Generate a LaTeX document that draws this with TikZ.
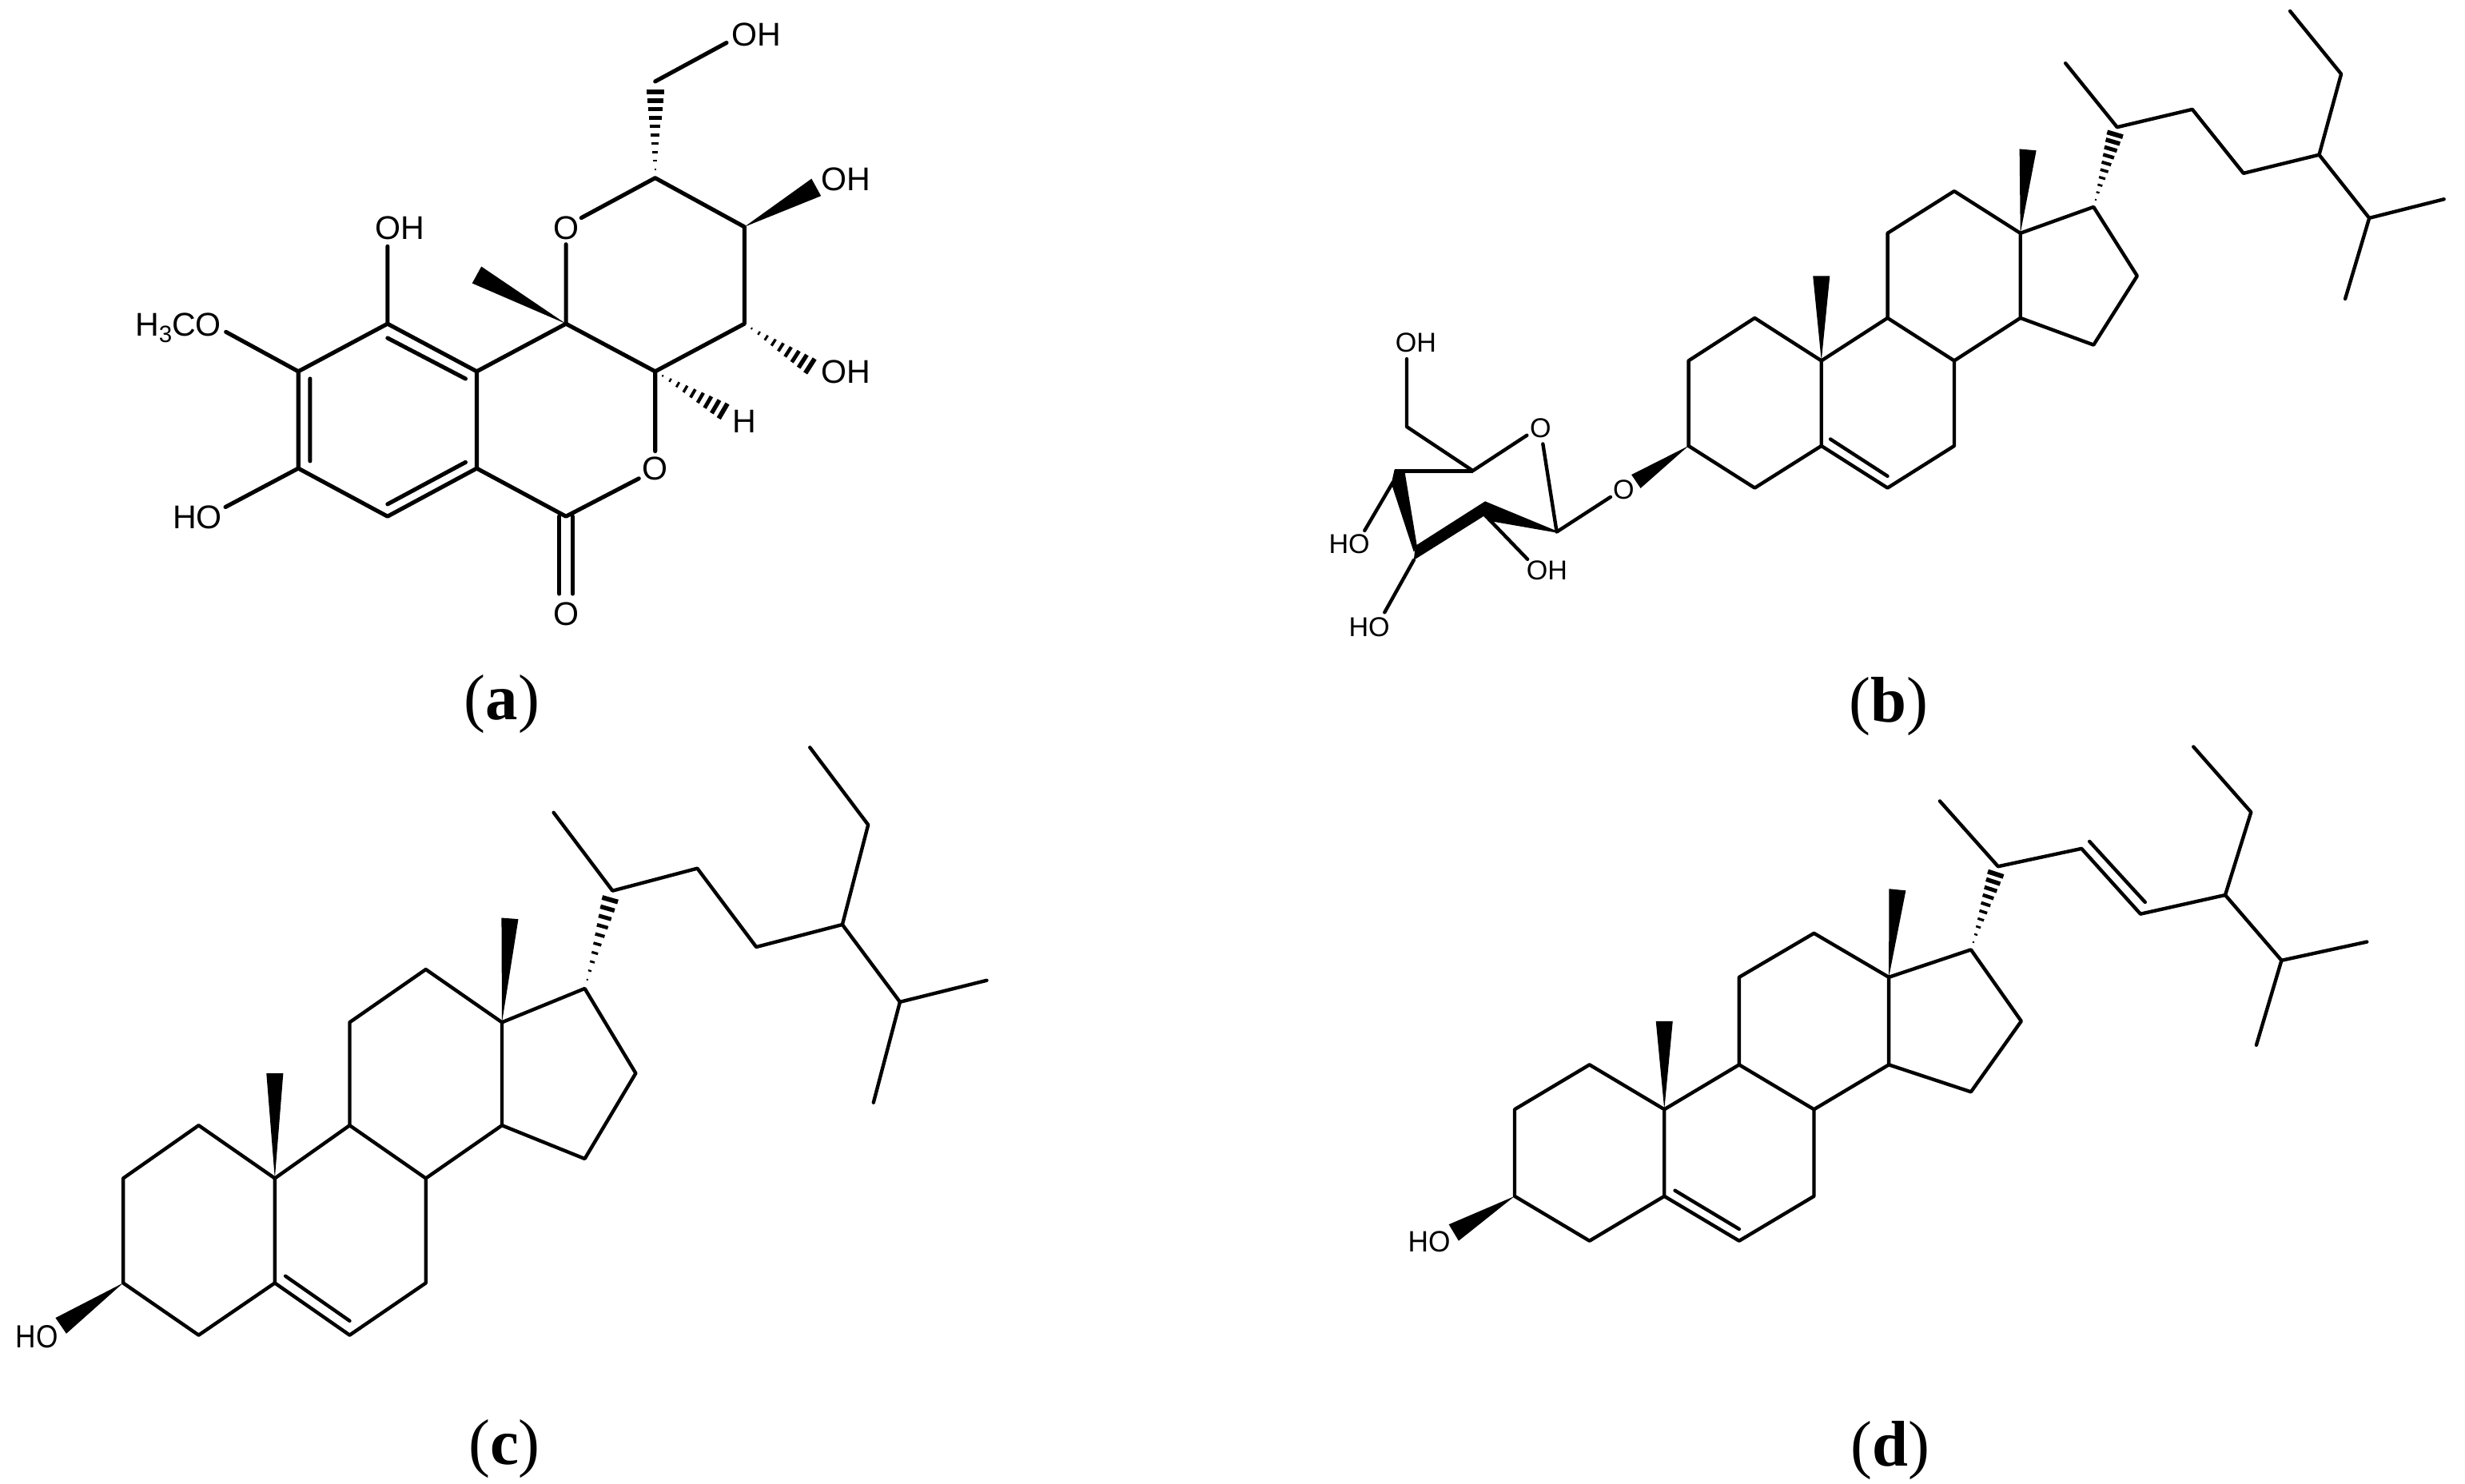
\documentclass[tikz,border=0pt]{standalone}
\usepackage{fontspec}
\setmainfont{Liberation Serif}
\newfontfamily\chemfont{Liberation Sans}
\usetikzlibrary{calc}
\tikzset{
 bondl/.style={line width=1.25pt,line cap=round,line join=round},
 bonda/.style={line width=1.45pt,line cap=round,line join=round},
 atoma/.style={font=\chemfont\fontsize{11.7}{12}\selectfont,inner sep=0pt},
 atoms/.style={font=\chemfont\fontsize{9.7}{11}\selectfont,inner sep=0pt},
 atomc/.style={font=\chemfont\fontsize{11.4}{12}\selectfont,inner sep=0pt},
 panel/.style={font=\fontsize{23}{26}\selectfont,inner sep=0pt}
}
\newcommand\atm[3]{\coordinate (#1) at (#2,#3);}
\newcommand\hashb[4]{%
 \foreach \i in {1,...,#4}{%
  \pgfmathsetmacro\tt{\i/(#4+1)}%
  \pgfmathsetlengthmacro\ww{#3*\tt}%
  \pgfmathsetlengthmacro\lw{0.4pt+1.4pt*\tt}%
  \draw[line width=\lw] ($(#1)!\tt!(#2)!\ww!90:(#2)$) -- ($(#1)!\tt!(#2)!-\ww!90:(#2)$);
 }}
\newcommand\wedgeb[3]{\fill ($(#2)!#3!90:(#1)$) -- (#1) -- ($(#2)!#3!-90:(#1)$) -- cycle;}
\newcommand\sterbonds[1]{%
 \draw[bondl] (#1c3)--(#1c2)--(#1c1)--(#1c10)--(#1c5)--(#1c4)--(#1c3);
 \draw[bondl] (#1c10)--(#1c9)--(#1c8)--(#1c7)--(#1c6)--(#1c5);
 \draw[bondl] (#1n1)--(#1n2);
 \draw[bondl] (#1c9)--(#1c11)--(#1c12)--(#1c13)--(#1c14)--(#1c8);
 \draw[bondl] (#1c13)--(#1c17)--(#1c16)--(#1c15)--(#1c14);
 \draw[bondl] (#1c21)--(#1c20)--(#1c22)--(#1c23)--(#1c24)--(#1c28)--(#1c29);
 \draw[bondl] (#1c24)--(#1c25)--(#1c26);
 \draw[bondl] (#1c25)--(#1c27);
 \wedgeb{#1c10}{#1m19}{3pt}
 \wedgeb{#1c13}{#1m18}{3pt}
 \hashb{#1c17}{#1c20}{3.2pt}{10}
}
\begin{document}
\begin{tikzpicture}
\useasboundingbox (0,0) rectangle (30.84,-18.57);
%% ---------- panel a
\begin{scope}[shift={(1.5cm,0cm)},x=0.006378cm,y=-0.005102cm]
\atm{a1}{525}{795}\atm{a2}{700}{912}\atm{a3}{700}{1150}\atm{a4}{525}{1268}\atm{a5}{350}{1150}\atm{a6}{350}{912}
\atm{ai1}{525}{830}\atm{ai2}{678}{930}\atm{ai3}{373}{930}\atm{ai4}{373}{1132}\atm{ai5}{678}{1135}\atm{ai6}{525}{1238}
\atm{aoh1}{525}{605}\atm{aome}{208}{815}\atm{aoh2}{207}{1245}
\atm{aq}{875}{795}\atm{ame}{700}{675}\atm{ao1}{875}{600}\atm{ao1b}{905}{535}
\atm{ac6}{1050}{437}\atm{ac7}{1225}{557}\atm{ac8}{1225}{795}\atm{ac9}{1050}{912}
\atm{ao2}{1050}{1108}\atm{ao2b}{1018}{1175}\atm{acc}{875}{1268}
\atm{acl1}{862}{1268}\atm{acl2}{862}{1458}\atm{acr1}{888}{1268}\atm{acr2}{888}{1458}
\atm{ach2}{1050}{205}\atm{ach2t}{1050}{200}\atm{aoh3}{1190}{105}
\atm{aoh4}{1366}{460}\atm{aoh5}{1368}{910}\atm{ahh}{1198}{1020}
\node[atoma] (ltop) at (550,560) {OH};
\node[atoma,anchor=base east] (lome) at (200,825) {H\raisebox{-.35ex}{\fontsize{8.4}{9}\selectfont 3}CO};
\node[atoma] (lho) at (152,1270) {HO};
\node[atoma] (lo1) at (875,560) {O};
\node[atoma] (lo2) at (1050,1150) {O};
\node[atoma] (lo3) at (875,1507) {O};
\node[atoma] (loh3) at (1249,85) {OH};
\node[atoma] (loh4) at (1424,440) {OH};
\node[atoma] (loh5) at (1424,913) {OH};
\node[atoma] (lh) at (1225,1035) {H};
\end{scope}
\draw[bonda] (a1)--(a2)--(a3)--(a4)--(a5)--(a6)--(a1);
\draw[bonda] (ai1)--(ai2) (ai3)--(ai4) (ai5)--(ai6);
\draw[bonda] (a1)--(aoh1) (a6)--(aome) (a5)--(aoh2) (a2)--(aq) (aq)--(ao1);
\draw[bonda] (ao1b)--(ac6)--(ac7)--(ac8)--(ac9)--(aq);
\draw[bonda] (ac9)--(ao2) (ao2b)--(acc)--(a3);
\draw[bonda] (acl1)--(acl2) (acr1)--(acr2);
\draw[bonda] (ach2t)--(aoh3);
\wedgeb{aq}{ame}{3.4pt}
\wedgeb{ac7}{aoh4}{3.5pt}
\hashb{ac6}{ach2}{3.5pt}{10}
\hashb{ac8}{aoh5}{3.4pt}{9}
\hashb{ac9}{ahh}{3.4pt}{9}
%% ---------- panel b steroid
\begin{scope}[shift={(21cm,0cm)},x=0.006276cm,y=-0.004209cm]
\atm{bc3}{20}{1325}\atm{bc2}{20}{1072}\atm{bc1}{152}{945}\atm{bc10}{285}{1072}\atm{bc5}{285}{1325}\atm{bc4}{152}{1450}
\atm{bc9}{417}{945}\atm{bc8}{550}{1072}\atm{bc7}{550}{1325}\atm{bc6}{417}{1450}\atm{bn1}{303}{1305}\atm{bn2}{417}{1415}
\atm{bc11}{417}{693}\atm{bc12}{550}{568}\atm{bc13}{682}{693}\atm{bc14}{682}{945}
\atm{bc17}{828}{615}\atm{bc16}{915}{820}\atm{bc15}{828}{1025}
\atm{bm19}{285}{820}\atm{bm18}{697}{445}
\atm{bc20}{875}{378}\atm{bc21}{772}{188}\atm{bc22}{1025}{325}\atm{bc23}{1127}{515}\atm{bc24}{1278}{460}
\atm{bc28}{1322}{220}\atm{bc29}{1220}{33}\atm{bc25}{1378}{648}\atm{bc26}{1527}{592}\atm{bc27}{1330}{888}
\end{scope}
\sterbonds{b}
%% ---------- sugar
\begin{scope}[shift={(16.4cm,-3.4cm)},x=0.00384cm,y=-0.00336cm]
\atm{so6}{312}{325}\atm{sc6}{312}{578}\atm{s5}{527}{742}\atm{so5a}{703}{610}\atm{so5b}{755}{642}\atm{s1}{800}{970}
\atm{sol1}{975}{840}\atm{sol2}{1058}{782}\atm{s4}{272}{742}
\atm{p11}{272}{738}\atm{p12}{305}{742}\atm{p13}{345}{1020}\atm{p14}{335}{1045}\atm{p15}{262}{790}
\atm{p21}{340}{1022}\atm{p22}{567}{856}\atm{p23}{567}{908}\atm{p24}{335}{1075}
\atm{p31}{803}{968}\atm{p32}{800}{973}\atm{p33}{595}{932}
\atm{so4}{175}{965}\atm{so3}{240}{1270}\atm{so2}{705}{1072}\atm{s4b}{267}{785}
\node[atoms] (lsoh6) at (342,265) {OH};
\node[atoms] (lso5) at (747,582) {O};
\node[atoms] (lsol) at (1018,812) {O};
\node[atoms] (lsho4) at (125,1015) {HO};
\node[atoms] (lsho3) at (190,1325) {HO};
\node[atoms] (lsoh2) at (768,1115) {OH};
\end{scope}
\draw[bondl] (so6)--(sc6)--(s5)--(so5a) (so5b)--(s1)--(sol1) (s4b)--(so4) (p24)--(so3) (p23)--(so2);
\draw[line width=1.4pt] (s5)--(s4);
\fill (p11)--(p12)--(p13)--(p14)--(p15)--cycle;
\fill (p21)--(p22)--(p23)--(p24)--cycle;
\fill (p22)--(p31)--(p32)--(p33)--(p23)--cycle;
\wedgeb{bc3}{sol2}{2.9pt}
%% ---------- panel c
\begin{scope}[shift={(0cm,-9.2cm)},x=0.00829cm,y=-0.005102cm]
\atm{cc3}{186}{1345}\atm{cc2}{186}{1088}\atm{cc1}{300}{958}\atm{cc10}{415}{1088}\atm{cc5}{415}{1345}\atm{cc4}{300}{1473}
\atm{cc9}{528}{958}\atm{cc8}{643}{1088}\atm{cc7}{643}{1345}\atm{cc6}{528}{1473}\atm{cn1}{431}{1328}\atm{cn2}{528}{1438}
\atm{cc11}{528}{705}\atm{cc12}{643}{575}\atm{cc13}{758}{705}\atm{cc14}{758}{958}
\atm{cc17}{883}{622}\atm{cc16}{960}{830}\atm{cc15}{883}{1040}
\atm{cm19}{415}{830}\atm{cm18}{770}{450}
\atm{cc20}{925}{382}\atm{cc21}{836}{190}\atm{cc22}{1053}{327}\atm{cc23}{1142}{520}\atm{cc24}{1272}{465}
\atm{cc28}{1311}{220}\atm{cc29}{1223}{30}\atm{cc25}{1359}{655}\atm{cc26}{1490}{602}\atm{cc27}{1319}{902}
\atm{coh}{92}{1450}
\node[atomc] (lcho) at (56,1476) {\scalebox{.88}[1]{HO}};
\end{scope}
\sterbonds{c}
\wedgeb{cc3}{coh}{3.4pt}
%% ---------- panel d
\begin{scope}[shift={(17.5cm,-9.3cm)},x=0.00829cm,y=-0.004464cm]
\atm{dc3}{175}{1268}\atm{dc2}{175}{1025}\atm{dc1}{288}{900}\atm{dc10}{401}{1025}\atm{dc5}{401}{1268}\atm{dc4}{288}{1393}
\atm{dc9}{514}{900}\atm{dc8}{627}{1025}\atm{dc7}{627}{1268}\atm{dc6}{514}{1393}\atm{dn1}{417}{1252}\atm{dn2}{514}{1360}
\atm{dc11}{514}{655}\atm{dc12}{627}{532}\atm{dc13}{740}{655}\atm{dc14}{740}{900}
\atm{dc17}{864}{578}\atm{dc16}{940}{778}\atm{dc15}{864}{976}
\atm{dm19}{401}{778}\atm{dm18}{753}{410}
\atm{dc20}{905}{345}\atm{dc21}{817}{162}\atm{dc22}{1031}{295}\atm{dc23}{1120}{478}\atm{dc24}{1248}{425}
\atm{dc28}{1287}{193}\atm{dc29}{1200}{10}\atm{dc25}{1333}{608}\atm{dc26}{1462}{556}\atm{dc27}{1295}{845}
\atm{dd1}{1043}{275}\atm{dd2}{1127}{445}
\atm{doh}{83}{1370}
\node[atomc] (ldho) at (46,1395) {\scalebox{.88}[.92]{HO}};
\end{scope}
\sterbonds{d}
\draw[bondl] (dd1)--(dd2);
\wedgeb{dc3}{doh}{3.4pt}
%% ---------- captions
\node[panel] (capa) at (6.28,-8.81) {(\textbf{a})};
\node[panel] (capb) at (23.63,-8.84) {(\textbf{b})};
\node[panel] (capc) at (6.31,-18.13) {(\textbf{c})};
\node[panel] (capd) at (23.65,-18.15) {(\textbf{d})};
\end{tikzpicture}
\end{document}
